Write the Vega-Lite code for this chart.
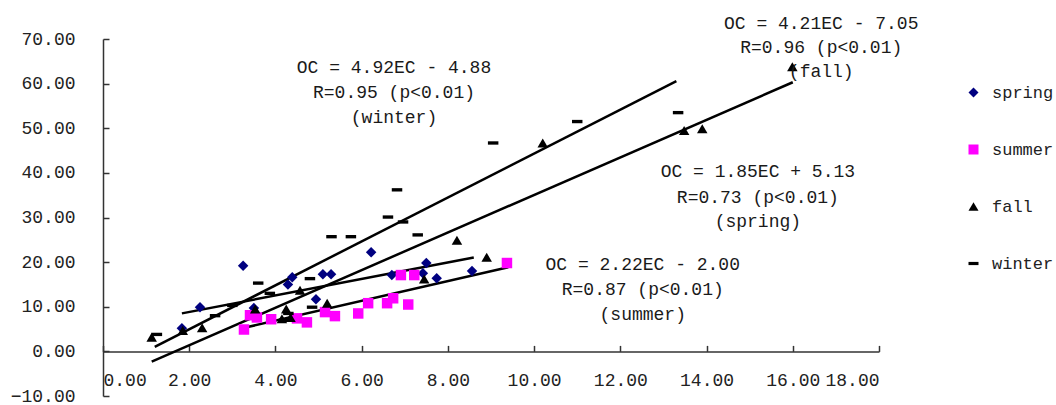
{
  "$schema": "https://vega.github.io/schema/vega-lite/v6.json",
  "width": 776,
  "height": 357,
  "autosize": {"type": "none"},
  "padding": {"left": 103, "top": 39, "right": 177, "bottom": 9},
  "background": "white",
  "config": {
    "view": {"stroke": null},
    "axis": {
      "labelFont": "Liberation Mono",
      "labelFontSize": 18,
      "labelColor": "#222222",
      "domainColor": "#333333",
      "domainWidth": 1.5,
      "tickColor": "#333333",
      "tickWidth": 1.5,
      "grid": false,
      "title": null
    },
    "legend": {
      "labelFont": "Liberation Mono",
      "labelFontSize": 17,
      "labelColor": "#222222"
    }
  },
  "datasets": {
    "points": [
      {"season": "spring", "EC": 1.83, "OC": 5.2},
      {"season": "spring", "EC": 2.25, "OC": 9.9},
      {"season": "spring", "EC": 3.25, "OC": 19.2},
      {"season": "spring", "EC": 3.5, "OC": 9.7},
      {"season": "spring", "EC": 4.29, "OC": 15.0},
      {"season": "spring", "EC": 4.39, "OC": 16.6},
      {"season": "spring", "EC": 4.94, "OC": 11.7},
      {"season": "spring", "EC": 5.1, "OC": 17.3},
      {"season": "spring", "EC": 5.29, "OC": 17.3},
      {"season": "spring", "EC": 6.22, "OC": 22.2},
      {"season": "spring", "EC": 6.7, "OC": 17.1},
      {"season": "spring", "EC": 7.42, "OC": 17.5},
      {"season": "spring", "EC": 7.5, "OC": 19.8},
      {"season": "spring", "EC": 7.74, "OC": 16.4},
      {"season": "spring", "EC": 8.56, "OC": 18.0},
      {"season": "summer", "EC": 3.27, "OC": 4.9},
      {"season": "summer", "EC": 3.41, "OC": 8.1},
      {"season": "summer", "EC": 3.57, "OC": 7.6},
      {"season": "summer", "EC": 3.9, "OC": 7.2},
      {"season": "summer", "EC": 4.5, "OC": 7.4},
      {"season": "summer", "EC": 4.73, "OC": 6.5},
      {"season": "summer", "EC": 5.15, "OC": 8.8},
      {"season": "summer", "EC": 5.38, "OC": 7.9},
      {"season": "summer", "EC": 5.92, "OC": 8.5},
      {"season": "summer", "EC": 6.15, "OC": 10.8},
      {"season": "summer", "EC": 6.59, "OC": 10.8},
      {"season": "summer", "EC": 6.73, "OC": 11.9},
      {"season": "summer", "EC": 6.91, "OC": 17.1},
      {"season": "summer", "EC": 7.08, "OC": 10.5},
      {"season": "summer", "EC": 7.22, "OC": 17.1},
      {"season": "summer", "EC": 9.37, "OC": 19.8},
      {"season": "fall", "EC": 1.13, "OC": 3.2},
      {"season": "fall", "EC": 1.85, "OC": 4.7},
      {"season": "fall", "EC": 2.3, "OC": 5.3},
      {"season": "fall", "EC": 3.53, "OC": 9.5},
      {"season": "fall", "EC": 4.15, "OC": 7.3},
      {"season": "fall", "EC": 4.25, "OC": 9.5},
      {"season": "fall", "EC": 4.35, "OC": 7.6},
      {"season": "fall", "EC": 4.57, "OC": 13.7},
      {"season": "fall", "EC": 5.2, "OC": 10.8},
      {"season": "fall", "EC": 7.45, "OC": 16.2},
      {"season": "fall", "EC": 8.21, "OC": 24.9},
      {"season": "fall", "EC": 8.9, "OC": 21.1},
      {"season": "fall", "EC": 10.2, "OC": 46.7},
      {"season": "fall", "EC": 13.48, "OC": 49.5},
      {"season": "fall", "EC": 13.9, "OC": 49.9},
      {"season": "fall", "EC": 15.99, "OC": 63.8},
      {"season": "winter", "EC": 1.25, "OC": 3.8},
      {"season": "winter", "EC": 2.6, "OC": 8.0},
      {"season": "winter", "EC": 3.0, "OC": 10.3},
      {"season": "winter", "EC": 3.6, "OC": 15.3},
      {"season": "winter", "EC": 3.87, "OC": 13.0},
      {"season": "winter", "EC": 4.2, "OC": 7.0},
      {"season": "winter", "EC": 4.3, "OC": 8.5},
      {"season": "winter", "EC": 4.8, "OC": 16.3},
      {"season": "winter", "EC": 4.85, "OC": 9.9},
      {"season": "winter", "EC": 5.3, "OC": 25.7},
      {"season": "winter", "EC": 5.75, "OC": 25.7},
      {"season": "winter", "EC": 6.61, "OC": 30.1},
      {"season": "winter", "EC": 6.82, "OC": 36.2},
      {"season": "winter", "EC": 6.96, "OC": 29.0},
      {"season": "winter", "EC": 7.3, "OC": 26.1},
      {"season": "winter", "EC": 9.05, "OC": 46.7},
      {"season": "winter", "EC": 11.0, "OC": 51.5},
      {"season": "winter", "EC": 13.34, "OC": 53.5}
    ],
    "fits": [
      {"fit": "winter", "EC": 1.2, "OC": 1.02},
      {"fit": "winter", "EC": 13.3, "OC": 60.56},
      {"fit": "fall", "EC": 1.13, "OC": -2.29},
      {"fit": "fall", "EC": 16.0, "OC": 60.31},
      {"fit": "spring", "EC": 1.83, "OC": 8.52},
      {"fit": "spring", "EC": 8.6, "OC": 21.04},
      {"fit": "summer", "EC": 3.25, "OC": 5.22},
      {"fit": "summer", "EC": 9.4, "OC": 18.87}
    ],
    "labels": [
      {"EC": 6.75, "OC": 63.6, "text": "OC = 4.92EC - 4.88"},
      {"EC": 6.75, "OC": 58.0, "text": "R=0.95 (p<0.01)"},
      {"EC": 6.75, "OC": 52.4, "text": "(winter)"},
      {"EC": 16.66, "OC": 73.3, "text": "OC = 4.21EC - 7.05"},
      {"EC": 16.66, "OC": 67.9, "text": "R=0.96 (p<0.01)"},
      {"EC": 16.66, "OC": 62.5, "text": "(fall)"},
      {"EC": 15.19, "OC": 40.2, "text": "OC = 1.85EC + 5.13"},
      {"EC": 15.19, "OC": 34.4, "text": "R=0.73 (p<0.01)"},
      {"EC": 15.19, "OC": 29.0, "text": "(spring)"},
      {"EC": 12.52, "OC": 19.3, "text": "OC = 2.22EC - 2.00"},
      {"EC": 12.52, "OC": 13.7, "text": "R=0.87 (p<0.01)"},
      {"EC": 12.52, "OC": 8.1, "text": "(summer)"}
    ]
  },
  "encoding": {
    "x": {
      "field": "EC", "type": "quantitative",
      "scale": {"domain": [0, 18], "nice": false, "zero": false},
      "axis": {"values": [0, 2, 4, 6, 8, 10, 12, 14, 16, 18], "format": ".2f", "offset": -44.6, "tickSize": -6, "labelPadding": 26}
    },
    "y": {
      "field": "OC", "type": "quantitative",
      "scale": {"domain": [-10, 70], "nice": false, "zero": false},
      "axis": {"values": [-10, 0, 10, 20, 30, 40, 50, 60, 70], "format": ".2f", "tickSize": -6, "labelPadding": 34}
    }
  },
  "layer": [
    {
      "data": {"name": "fits"},
      "mark": {"type": "line", "color": "black", "strokeWidth": 2.5},
      "encoding": {"detail": {"field": "fit"}}
    },
    {
      "data": {"name": "points"},
      "mark": {"type": "point", "filled": true, "opacity": 1, "size": 110},
      "encoding": {
        "color": {
          "field": "season", "type": "nominal",
          "scale": {"domain": ["spring", "summer", "fall", "winter"], "range": ["#000080", "#FF00FF", "#000000", "#000000"]},
          "legend": {"title": null, "orient": "none", "legendX": 862, "legendY": 45, "padding": 0, "rowPadding": 39, "labelOffset": 10, "symbolSize": 100, "symbolStrokeWidth": 0}
        },
        "shape": {
          "field": "season", "type": "nominal",
          "scale": {"domain": ["spring", "summer", "fall", "winter"], "range": ["diamond", "square", "triangle-up", "M-1,-0.32L1,-0.32L1,0.32L-1,0.32Z"]}
        }
      }
    },
    {
      "data": {"name": "labels"},
      "mark": {"type": "text", "font": "Liberation Mono", "fontSize": 18, "color": "#1a1a1a", "align": "center", "baseline": "middle"},
      "encoding": {"text": {"field": "text"}}
    }
  ]
}
